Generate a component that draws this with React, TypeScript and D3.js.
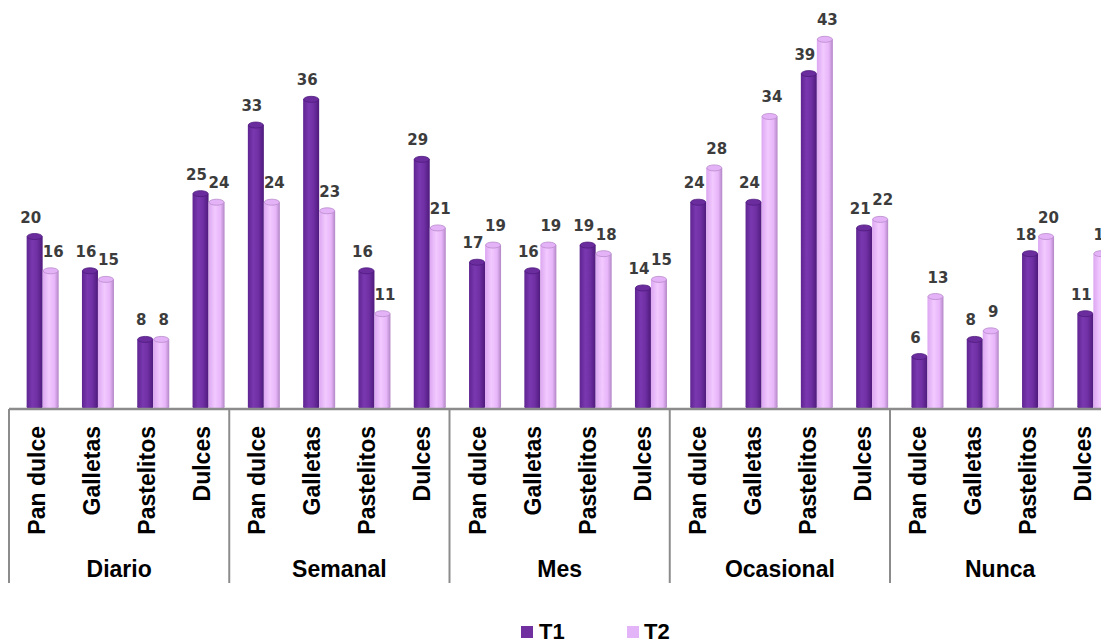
import React from "react";
import * as d3 from "d3";

// Frequency groups and food categories
const groups = ["Diario", "Semanal", "Mes", "Ocasional", "Nunca"];
const categories = ["Pan dulce", "Galletas", "Pastelitos", "Dulces"];

// Values per group, in category order
const t1Values = [
  [20, 16, 8, 25],
  [33, 36, 16, 29],
  [17, 16, 19, 14],
  [24, 24, 39, 21],
  [6, 8, 18, 11],
];
const t2Values = [
  [16, 15, 8, 24],
  [24, 23, 11, 21],
  [19, 19, 18, 15],
  [28, 34, 43, 22],
  [13, 9, 20, 18],
];

const seriesNames = ["T1", "T2"];

const W = 1101;
const H = 641;
const FONT = "'Liberation Sans', Arial, Helvetica, sans-serif";
const LABEL_FONT = "'DejaVu Sans', Verdana, sans-serif";

export default function App() {
  const baseY = 408;
  const plotLeft = 9;
  const groupW = 220.25;

  // axis bands (labels and separators)
  const xGroup = d3
    .scaleBand<string>()
    .domain(groups)
    .range([plotLeft, plotLeft + groupW * groups.length])
    .padding(0);

  const xCat = d3
    .scaleBand<string>()
    .domain(categories)
    .range([0, xGroup.bandwidth()])
    .padding(0);

  // bar slots, drawn with a small depth offset / perspective spread
  const slotKeys = groups.flatMap((g) => categories.map((c) => `${g}|${c}`));
  const xSlot = d3
    .scaleBand<string>()
    .domain(slotKeys)
    .range([15, 15 + 55.3 * slotKeys.length])
    .padding(0);

  const y = d3.scaleLinear().domain([0, 47]).range([baseY, 5]);

  const barW = 16;
  const ry = 3;

  const series = [
    { name: seriesNames[0], values: t1Values, grad: "gT1", top: "#6b2d9e", topStroke: "#4f1b7d", off: -barW, lab: -4 },
    { name: seriesNames[1], values: t2Values, grad: "gT2", top: "#e4b3f7", topStroke: "#b98acc", off: 0, lab: 2.5 },
  ];

  const bars: React.ReactNode[] = [];
  const labels: React.ReactNode[] = [];

  groups.forEach((g, gi) => {
    categories.forEach((c, ci) => {
      const center = (xSlot(`${g}|${c}`) ?? 0) + xSlot.bandwidth() / 2;
      series.forEach((s, si) => {
        const v = s.values[gi][ci];
        const x0 = center + s.off;
        const yt = y(v);
        const cx = x0 + barW / 2;
        bars.push(
          <g key={`b-${gi}-${ci}-${si}`}>
            <ellipse cx={cx} cy={baseY - 1} rx={barW / 2} ry={ry} fill={`url(#${s.grad})`} />
            <rect x={x0} y={yt} width={barW} height={baseY - 1 - yt} fill={`url(#${s.grad})`} />
            <ellipse cx={cx} cy={yt} rx={barW / 2 - 0.5} ry={ry} fill={s.top} stroke={s.topStroke} strokeWidth={0.8} />
          </g>
        );
        labels.push(
          <text
            key={`l-${gi}-${ci}-${si}`}
            x={cx + s.lab}
            y={yt - 14}
            textAnchor="middle"
            fontFamily={LABEL_FONT}
            fontWeight="bold"
            fontSize={15}
            fill="#3c3c3c"
          >
            {v}
          </text>
        );
      });
    });
  });

  const axisColor = "#8c8c8c";
  const groupEdges = groups.map((g) => xGroup(g) ?? 0);

  return (
    <svg
      width={W}
      height={H}
      style={{ position: "fixed", left: 0, top: 0, background: "#ffffff" }}
    >
      <defs>
        <linearGradient id="gT1" x1="0" x2="1" y1="0" y2="0">
          <stop offset="0" stopColor="#5f2491" />
          <stop offset="0.35" stopColor="#7a38b0" />
          <stop offset="0.65" stopColor="#7030a4" />
          <stop offset="1" stopColor="#4e1a7c" />
        </linearGradient>
        <linearGradient id="gT2" x1="0" x2="1" y1="0" y2="0">
          <stop offset="0" stopColor="#dca7f1" />
          <stop offset="0.4" stopColor="#f2c9ff" />
          <stop offset="0.75" stopColor="#e7b5f9" />
          <stop offset="1" stopColor="#b286c6" />
        </linearGradient>
      </defs>

      {bars}
      {labels}

      {/* category axis */}
      <line x1={plotLeft} x2={W} y1={baseY + 1} y2={baseY + 1} stroke={axisColor} strokeWidth={2.5} />
      {groupEdges.map((x, i) => (
        <line key={`v-${i}`} x1={x} x2={x} y1={baseY + 1} y2={583} stroke={axisColor} strokeWidth={2} />
      ))}

      {groups.map((g, gi) =>
        categories.map((c, ci) => {
          const cx = (xGroup(g) ?? 0) + (xCat(c) ?? 0) + xCat.bandwidth() / 2;
          return (
            <text
              key={`c-${gi}-${ci}`}
              transform={`translate(${cx + 8.5},426) rotate(-90)`}
              textAnchor="end"
              fontFamily={FONT}
              fontWeight="bold"
              fontSize={23}
              fill="#000"
            >
              {c}
            </text>
          );
        })
      )}

      {groups.map((g, gi) => (
        <text
          key={`g-${gi}`}
          x={(xGroup(g) ?? 0) + xGroup.bandwidth() / 2}
          y={577}
          textAnchor="middle"
          fontFamily={FONT}
          fontWeight="bold"
          fontSize={23}
          fill="#000"
        >
          {g}
        </text>
      ))}

      {/* legend */}
      <rect x={521} y={626} width={12} height={12} fill="#7030a0" />
      <text x={539} y={639} fontFamily={FONT} fontWeight="bold" fontSize={22} fill="#000">
        {seriesNames[0]}
      </text>
      <rect x={627} y={626} width={12} height={12} fill="#e3b4f8" />
      <text x={644} y={639} fontFamily={FONT} fontWeight="bold" fontSize={22} fill="#000">
        {seriesNames[1]}
      </text>
    </svg>
  );
}
